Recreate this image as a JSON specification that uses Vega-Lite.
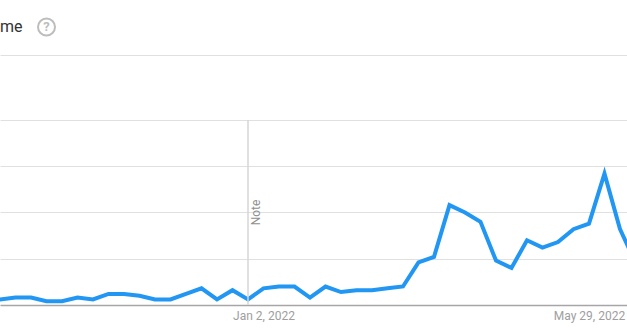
{
  "$schema": "https://vega.github.io/schema/vega-lite/v6.json",
  "width": 627,
  "height": 305,
  "padding": {"left": 0, "top": 0, "right": 0, "bottom": 26},
  "autosize": {"type": "none"},
  "background": "white",
  "config": {"view": {"stroke": null}, "font": "Roboto"},
  "data": {
    "values": [
      {"week": "2021-08-29", "interest": 3},
      {"week": "2021-09-05", "interest": 3},
      {"week": "2021-09-12", "interest": 4},
      {"week": "2021-09-19", "interest": 4},
      {"week": "2021-09-26", "interest": 2},
      {"week": "2021-10-03", "interest": 2},
      {"week": "2021-10-10", "interest": 4},
      {"week": "2021-10-17", "interest": 3},
      {"week": "2021-10-24", "interest": 6},
      {"week": "2021-10-31", "interest": 6},
      {"week": "2021-11-07", "interest": 5},
      {"week": "2021-11-14", "interest": 3},
      {"week": "2021-11-21", "interest": 3},
      {"week": "2021-11-28", "interest": 6},
      {"week": "2021-12-05", "interest": 9},
      {"week": "2021-12-12", "interest": 3},
      {"week": "2021-12-19", "interest": 8},
      {"week": "2021-12-26", "interest": 3},
      {"week": "2022-01-02", "interest": 9},
      {"week": "2022-01-09", "interest": 10},
      {"week": "2022-01-16", "interest": 10},
      {"week": "2022-01-23", "interest": 4},
      {"week": "2022-01-30", "interest": 10},
      {"week": "2022-02-06", "interest": 7},
      {"week": "2022-02-13", "interest": 8},
      {"week": "2022-02-20", "interest": 8},
      {"week": "2022-02-27", "interest": 9},
      {"week": "2022-03-06", "interest": 10},
      {"week": "2022-03-13", "interest": 23},
      {"week": "2022-03-20", "interest": 26},
      {"week": "2022-03-27", "interest": 54},
      {"week": "2022-04-03", "interest": 50},
      {"week": "2022-04-10", "interest": 45},
      {"week": "2022-04-17", "interest": 24},
      {"week": "2022-04-24", "interest": 20},
      {"week": "2022-05-01", "interest": 35},
      {"week": "2022-05-08", "interest": 31},
      {"week": "2022-05-15", "interest": 34},
      {"week": "2022-05-22", "interest": 41},
      {"week": "2022-05-29", "interest": 44},
      {"week": "2022-06-05", "interest": 71},
      {"week": "2022-06-12", "interest": 41},
      {"week": "2022-06-19", "interest": 23}
    ]
  },
  "encoding": {
    "x": {
      "field": "week",
      "type": "temporal",
      "scale": {
        "type": "utc",
        "domain": [
          {"year": 2021, "month": 9, "date": 5, "utc": true},
          {"year": 2022, "month": 6, "date": 15, "hours": 4, "utc": true}
        ]
      },
      "axis": {
        "title": null,
        "values": [
          {"year": 2022, "month": 1, "date": 2, "utc": true},
          {"year": 2022, "month": 5, "date": 29, "utc": true}
        ],
        "format": "%b %-d, %Y",
        "grid": false,
        "ticks": false,
        "domain": true,
        "domainColor": "#a6a6a6",
        "domainWidth": 1.5,
        "labelColor": "#9e9e9e",
        "labelFontSize": 12,
        "labelFont": "Roboto",
        "labelPadding": 5,
        "labelFlush": false,
        "labelOverlap": false
      }
    },
    "y": {
      "field": "interest",
      "type": "quantitative",
      "scale": {"domain": [0, 164.86], "nice": false, "zero": true},
      "axis": {
        "title": null,
        "values": [25, 50, 75, 100, 135.14],
        "grid": true,
        "gridColor": "#e0e0e0",
        "gridWidth": 1,
        "labels": false,
        "ticks": false,
        "domain": false
      }
    }
  },
  "layer": [
    {
      "mark": {
        "type": "line",
        "color": "#2196f3",
        "strokeWidth": 4,
        "strokeJoin": "miter",
        "clip": true
      }
    },
    {
      "transform": [{"filter": {"field": "week", "equal": {"year": 2021, "month": 12, "date": 26, "utc": true}}}],
      "mark": {"type": "rule", "color": "#d6d6d6", "strokeWidth": 1.5},
      "encoding": {
        "y": {"datum": 0, "type": "quantitative"},
        "y2": {"datum": 100}
      }
    },
    {
      "transform": [{"filter": {"field": "week", "equal": {"year": 2021, "month": 12, "date": 26, "utc": true}}}],
      "mark": {
        "type": "text",
        "text": "Note",
        "angle": 270,
        "align": "center",
        "baseline": "middle",
        "xOffset": 8,
        "color": "#8f8f8f",
        "fontSize": 12,
        "font": "Roboto"
      },
      "encoding": {
        "y": {"datum": 50, "type": "quantitative"}
      }
    },
    {
      "transform": [{"filter": {"field": "week", "equal": {"year": 2021, "month": 9, "date": 5, "utc": true}}}],
      "mark": {
        "type": "text",
        "text": "me",
        "align": "left",
        "baseline": "middle",
        "color": "#333333",
        "fontSize": 16,
        "font": "Roboto"
      },
      "encoding": {
        "y": {"datum": 150.3, "type": "quantitative"}
      }
    },
    {
      "transform": [{"filter": {"field": "week", "equal": {"year": 2021, "month": 9, "date": 26, "utc": true}}}],
      "mark": {
        "type": "point",
        "shape": "circle",
        "filled": false,
        "stroke": "#bdbdbd",
        "strokeWidth": 2,
        "size": 289,
        "opacity": 1
      },
      "encoding": {
        "y": {"datum": 150.3, "type": "quantitative"}
      }
    },
    {
      "transform": [{"filter": {"field": "week", "equal": {"year": 2021, "month": 9, "date": 26, "utc": true}}}],
      "mark": {
        "type": "text",
        "text": "?",
        "align": "center",
        "baseline": "middle",
        "dy": 0.5,
        "color": "#bdbdbd",
        "fontSize": 13,
        "fontWeight": "bold",
        "font": "Roboto"
      },
      "encoding": {
        "y": {"datum": 150.3, "type": "quantitative"}
      }
    }
  ]
}
